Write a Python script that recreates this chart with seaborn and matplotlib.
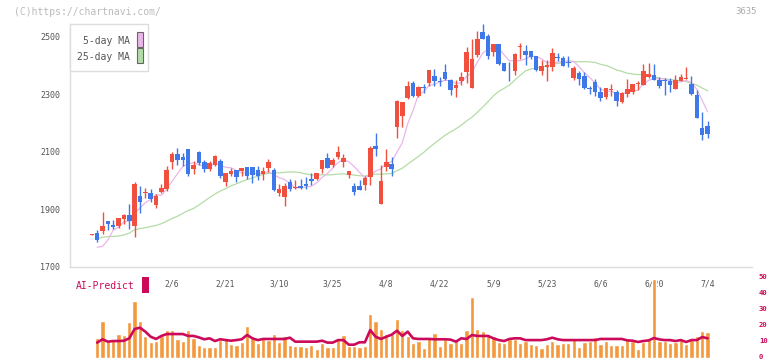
import numpy as np
import pandas as pd
import matplotlib
matplotlib.use('Agg')
import matplotlib.pyplot as plt
import matplotlib.patches as patches
import matplotlib.transforms as mtransforms
import seaborn as sns

# daily candles, index 0 = 2025-01-16 ... index 115 = 2025-07-04
opens = [1811, 1818, 1824, 1858, 1845, 1841, 1865, 1879, 1841, 1946,
         1956, 1955, 1915, 1958, 1969, 2064, 2092, 2080, 2109, 2038,
         2099, 2062, 2039, 2053, 2067, 1995, 2021, 2036, 2034, 2045,
         2046, 2036, 2023, 2044, 2036, 1957, 1942, 1995, 1974, 1980,
         1987, 2005, 2005, 2039, 2078, 2053, 2081, 2065, 2019, 1981,
         1981, 1984, 2013, 2121, 1919, 2048, 2057, 2187, 2225, 2287,
         2338, 2292, 2323, 2337, 2363, 2342, 2376, 2349, 2323, 2346,
         2378, 2320, 2436, 2515, 2504, 2448, 2475, 2410, 2388, 2382,
         2463, 2450, 2450, 2431, 2381, 2396, 2396, 2429, 2427, 2411,
         2357, 2374, 2363, 2319, 2342, 2308, 2291, 2314, 2308, 2274,
         2299, 2309, 2334, 2332, 2361, 2367, 2349, 2349, 2347, 2318,
         2347, 2354, 2335, 2297, 2182, 2190]
highs = [1813, 1827, 1891, 1860, 1862, 1870, 1883, 1918, 1995, 1980,
         1972, 1971, 1951, 1986, 2051, 2100, 2111, 2096, 2109, 2067,
         2103, 2071, 2066, 2088, 2074, 2027, 2042, 2036, 2043, 2045,
         2046, 2050, 2048, 2073, 2042, 1987, 1990, 2004, 2001, 2006,
         2013, 2027, 2027, 2071, 2094, 2077, 2121, 2091, 2033, 1990,
         2001, 2015, 2120, 2166, 2053, 2109, 2082, 2280, 2274, 2344,
         2346, 2328, 2335, 2384, 2388, 2359, 2405, 2352, 2349, 2376,
         2463, 2492, 2518, 2544, 2509, 2475, 2475, 2410, 2412, 2442,
         2477, 2471, 2450, 2431, 2419, 2419, 2460, 2442, 2432, 2433,
         2398, 2381, 2377, 2329, 2353, 2326, 2320, 2335, 2314, 2309,
         2353, 2335, 2344, 2405, 2410, 2405, 2359, 2355, 2355, 2367,
         2370, 2396, 2363, 2314, 2239, 2205]
lows = [1811, 1785, 1813, 1827, 1831, 1835, 1847, 1831, 1804, 1885,
        1937, 1923, 1904, 1955, 1963, 2041, 2052, 2051, 2016, 2023,
        2055, 2030, 2033, 2051, 2007, 1981, 2016, 1995, 2016, 2006,
        1992, 2001, 2001, 2030, 1964, 1947, 1910, 1963, 1970, 1971,
        1971, 1984, 2001, 2024, 2043, 2048, 2073, 2045, 2007, 1949,
        1966, 1966, 1984, 2085, 1919, 2034, 2016, 2146, 2187, 2283,
        2289, 2289, 2303, 2328, 2328, 2330, 2349, 2297, 2291, 2332,
        2340, 2320, 2428, 2492, 2422, 2434, 2402, 2382, 2346, 2367,
        2421, 2402, 2421, 2382, 2367, 2346, 2382, 2414, 2399, 2396,
        2350, 2332, 2317, 2301, 2295, 2277, 2283, 2295, 2257, 2268,
        2291, 2299, 2314, 2332, 2357, 2349, 2323, 2297, 2309, 2318,
        2344, 2352, 2297, 2218, 2140, 2148]
closes = [1813, 1792, 1841, 1849, 1838, 1868, 1879, 1860, 1987, 1926,
          1958, 1935, 1946, 1973, 2036, 2092, 2069, 2069, 2022, 2053,
          2059, 2041, 2060, 2085, 2016, 2024, 2033, 2013, 2043, 2016,
          2019, 2016, 2033, 2062, 1966, 1970, 1981, 1970, 1976, 1973,
          1980, 1999, 2027, 2071, 2043, 2071, 2098, 2078, 2033, 1961,
          1968, 2009, 2114, 2109, 1998, 2065, 2041, 2277, 2274, 2328,
          2295, 2324, 2321, 2384, 2344, 2341, 2353, 2314, 2333, 2360,
          2447, 2422, 2492, 2492, 2431, 2475, 2404, 2382, 2386, 2440,
          2469, 2436, 2428, 2384, 2397, 2402, 2443, 2427, 2399, 2409,
          2391, 2353, 2320, 2317, 2309, 2288, 2320, 2316, 2277, 2303,
          2318, 2335, 2336, 2381, 2370, 2349, 2328, 2344, 2332, 2349,
          2360, 2355, 2301, 2218, 2158, 2161]

# moving averages before the window is full (index 1..)
ma5_head = [1767, 1770, 1792]
ma25_head = [1797, 1802, 1804, 1805, 1806, 1810, 1816, 1828, 1832, 1835,
             1839, 1843, 1849, 1858, 1867, 1875, 1885, 1895, 1902, 1914,
             1927, 1940, 1952]

# AI-Predict panel, index 1..115
ai_bars = [12.6, 23.1, 11.1, 11.1, 14.9, 14.3, 22.5, 35.9, 23.1, 13.7,
           10.1, 10.7, 13.7, 17.4, 17.4, 11.8, 10.7, 17.4, 12.6, 8.0,
           6.9, 6.9, 6.9, 11.1, 12.2, 8.6, 8.0, 10.1, 20.0, 12.2,
           9.0, 12.2, 11.1, 14.9, 10.1, 13.7, 8.0, 7.4, 7.4, 6.5,
           8.0, 5.5, 9.0, 6.9, 6.5, 12.2, 14.3, 7.4, 7.4, 6.5,
           7.4, 27.5, 23.1, 18.1, 14.9, 14.9, 24.4, 17.4, 13.7, 9.5,
           10.7, 6.3, 13.2, 15.8, 7.4, 11.8, 9.5, 11.6, 9.0, 17.4,
           38.4, 18.1, 17.0, 14.9, 13.7, 10.1, 9.5, 11.6, 11.6, 9.0,
           10.7, 8.6, 8.0, 5.9, 8.6, 10.5, 8.6, 9.5, 9.5, 11.6,
           6.5, 10.1, 10.5, 13.0, 8.6, 10.5, 8.0, 8.0, 8.0, 11.1,
           10.5, 5.5, 10.1, 11.6, 49.6, 10.5, 10.5, 9.5, 10.1, 11.1,
           8.6, 11.1, 13.7, 16.8, 16.2]
ai_line = [9.5, 11.6, 10.1, 10.5, 10.5, 10.7, 12.2, 18.1, 18.9, 16.4,
           13.2, 11.8, 13.7, 14.9, 14.9, 14.9, 14.9, 13.7, 13.7, 12.8,
           11.6, 12.2, 10.5, 11.6, 11.1, 10.7, 11.1, 11.6, 14.3, 12.2,
           11.1, 11.8, 11.8, 11.8, 11.8, 11.8, 12.6, 10.1, 10.1, 10.1,
           10.1, 10.1, 10.7, 9.5, 9.5, 11.1, 11.1, 8.2, 8.2, 9.7,
           9.7, 17.4, 13.2, 11.8, 13.2, 14.5, 17.0, 13.7, 16.4, 12.2,
           11.8, 11.8, 11.8, 11.6, 11.6, 11.6, 11.4, 10.1, 12.2, 11.8,
           14.3, 13.7, 13.7, 13.7, 12.2, 11.1, 10.5, 11.8, 12.2, 12.2,
           11.1, 11.1, 11.1, 11.1, 11.6, 12.6, 11.6, 11.1, 11.1, 11.1,
           11.1, 11.1, 11.1, 11.1, 11.8, 11.8, 11.8, 11.8, 11.8, 10.9,
           10.7, 9.9, 10.5, 10.9, 12.4, 11.5, 11.1, 11.1, 10.5, 11.1,
           9.9, 11.1, 11.1, 13.0, 12.2]

date_labels = ['2/6', '2/21', '3/10', '3/25', '4/8', '4/22', '5/9', '5/23', '6/6', '6/20', '7/4']
date_label_idx = [15, 25, 35, 45, 55, 65, 75, 85, 95, 105, 115]
price_ticks = [1700, 1900, 2100, 2300, 2500]
ai_ticks = [0, 10, 20, 30, 40, 50]

UP = '#f2503f'
DOWN = '#3f78e8'
PINK = '#ebb6eb'
GREEN = '#b4dca6'
CRIMSON = '#cc0a5a'
ORANGE = '#f3993c'
GREY = '#555555'
AXIS = '#dddddd'

sns.set_style('white')
plt.rcParams['font.family'] = ['DejaVu Sans Mono']

df = pd.DataFrame({'idx': np.arange(len(closes)), 'open': opens, 'high': highs,
                   'low': lows, 'close': closes})
df['ma5'] = df['close'].rolling(5).mean()
df['ma25'] = df['close'].rolling(25).mean()
df.loc[1:len(ma5_head), 'ma5'] = ma5_head
df.loc[1:len(ma25_head), 'ma25'] = ma25_head

ai = pd.DataFrame({'idx': np.arange(1, len(ai_bars) + 1), 'bar': ai_bars, 'line': ai_line})

fig = plt.figure(figsize=(7.72, 3.61), dpi=100)
ax = fig.add_axes([70 / 772, 94.5 / 361, 682 / 772, 246.5 / 361])
ax2 = fig.add_axes([70 / 772, 3.3 / 361, 682 / 772, 79.4 / 361])

xlim = (-4.07, 123.3)

# moving averages
sns.lineplot(data=df, x='idx', y='ma25', ax=ax, color=GREEN, lw=0.9, zorder=1)
sns.lineplot(data=df, x='idx', y='ma5', ax=ax, color=PINK, lw=0.9, zorder=1)

# candles
up = df['close'] >= df['open']
colors = np.where(up, UP, DOWN)
body_lo = np.minimum(df['open'], df['close'])
body_h = np.maximum((df['close'] - df['open']).abs(), 3)
ax.vlines(df['idx'], df['low'], df['high'], colors=colors, lw=1.0, zorder=2)
ax.bar(df['idx'], body_h, bottom=body_lo, width=0.85, color=colors, lw=0, zorder=3)

ax.set_xlim(*xlim)
ax.set_ylim(1700, 2558)
ax.set_yticks(price_ticks)
ax.set_yticklabels([str(p) for p in price_ticks])
ax.set_xticks(np.linspace(xlim[0], xlim[1], 12))
ax.set_xticklabels([])
ax.tick_params(axis='y', direction='inout', length=8, width=1, color=AXIS,
               labelsize=6, labelcolor=GREY, pad=3)
ax.tick_params(axis='x', direction='out', length=5, width=1, color=AXIS)
ax.set_xlabel('')
ax.set_ylabel('')
for side in ['top', 'right']:
    ax.spines[side].set_visible(False)
for side in ['left', 'bottom']:
    ax.spines[side].set_color(AXIS)
    ax.spines[side].set_linewidth(1)
ax.spines['left'].set_bounds(1700, 2545)

for i, lab in zip(date_label_idx, date_labels):
    ax.text(i, -0.071, lab, transform=ax.get_xaxis_transform(), ha='center',
            va='center', fontsize=5.8, color=GREY)

# AI-Predict panel
sns.barplot(data=ai, x='idx', y='bar', ax=ax2, native_scale=True, color=ORANGE,
            saturation=1, width=0.8, errorbar=None, zorder=1)
sns.lineplot(data=ai, x='idx', y='line', ax=ax2, color=CRIMSON, lw=1.9, zorder=2)
ax2.set_xlim(*xlim)
ax2.set_ylim(0, 50)
ax2.set_xticks([])
ax2.set_xlabel('')
ax2.set_ylabel('')
ax2.yaxis.tick_right()
ax2.set_yticks(ai_ticks)
ax2.tick_params(axis='y', length=0, labelsize=5.2, labelcolor=CRIMSON, pad=5)
lift = mtransforms.ScaledTranslation(0, 1.5 / 100, fig.dpi_scale_trans)
for t in ax2.get_yticklabels():
    t.set_fontweight('bold')
    t.set_transform(t.get_transform() + lift)
for side in ax2.spines:
    ax2.spines[side].set_visible(False)
ax2.patch.set_alpha(0)

fig.text(76 / 772, 1 - 286 / 361, 'AI-Predict', fontsize=7, color=CRIMSON,
         ha='left', va='center')
fig.add_artist(patches.Rectangle((142 / 772, 1 - 293 / 361), 7 / 772, 16 / 361,
                                 transform=fig.transFigure, color=CRIMSON, lw=0))

# legend box
fig.add_artist(patches.Rectangle((70 / 772, 1 - 71 / 361), 78 / 772, 47 / 361,
                                 transform=fig.transFigure, facecolor='white',
                                 edgecolor=AXIS, lw=1, zorder=5))
for y_txt, y0, lab, col in [(40.8, 46.7, '5-day MA', PINK), (57.2, 63.3, '25-day MA', GREEN)]:
    fig.text(130 / 772, 1 - y_txt / 361, lab, fontsize=7, color=GREY,
             ha='right', va='center', zorder=6)
    fig.add_artist(patches.Rectangle((136.5 / 772, 1 - y0 / 361), 6 / 772, 15 / 361,
                                     transform=fig.transFigure, facecolor=col,
                                     edgecolor='#666666', lw=0.8, zorder=6))

fig.text(14 / 772, 1 - 12 / 361, '(C)https://chartnavi.com/', fontsize=7,
         color='#bbbbbb', ha='left', va='center')
fig.text(757 / 772, 1 - 12 / 361, '3635', fontsize=6.5, color='#aaaaaa',
         ha='right', va='center')

fig.savefig('out.png', dpi=100)
